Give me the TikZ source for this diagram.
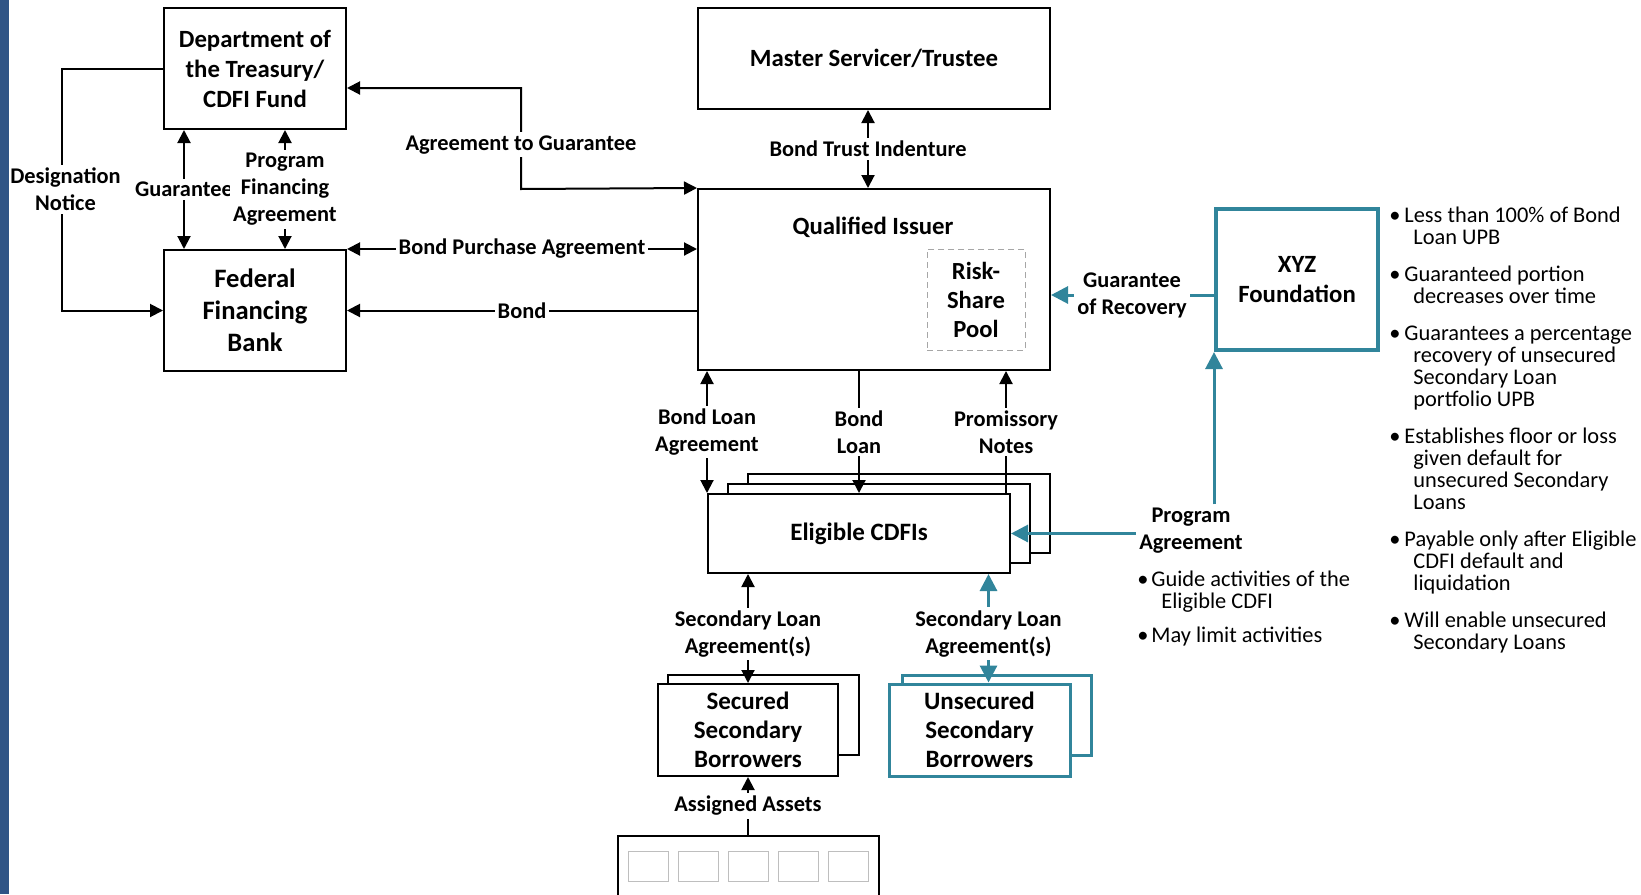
\documentclass[tikz,border=0pt]{standalone}
\usepackage{fontspec}
\setmainfont{Carlito}
\usetikzlibrary{arrows.meta}
\definecolor{tealline}{RGB}{49,133,155}
\definecolor{sidebar}{RGB}{47,84,134}
\definecolor{cellgray}{RGB}{190,190,190}
\tikzset{
  box/.style={draw, line width=1pt, fill=white, align=center, inner sep=0pt, font=\bfseries\fontsize{12.4}{15}\selectfont},
  lbl/.style={fill=white, inner sep=1.5pt, align=center, font=\bfseries\fontsize{11.2}{13.5}\selectfont},
  con/.style={line width=1pt, >={Triangle[length=6.5pt,width=6.5pt]}},
  tcon/.style={draw=tealline, line width=1.5pt, >={Triangle[length=8.5pt,width=8.5pt]}},
  note/.style={align=left, inner sep=0pt, anchor=north west, font=\fontsize{11.2}{11}\selectfont},
}
\begin{document}
\begin{tikzpicture}[x=0.5pt,y=-0.5pt]
\useasboundingbox (0,0) rectangle (1641,894);

\node[box, minimum width=91pt, minimum height=60.5pt] (treas) at (255,68.5) {Department of\\the Treasury/\\CDFI Fund};
\node[box, minimum width=91pt, minimum height=60.5pt, font=\bfseries\fontsize{13.3}{16}\selectfont] (ffb) at (255,310.5) {Federal\\Financing\\Bank};
\node[box, minimum width=176pt, minimum height=50.5pt] (master) at (874,58.5) {Master Servicer/Trustee};
\node[box, minimum width=176pt, minimum height=90.5pt] (qi) at (874,279.5) {};
\node[font=\bfseries\fontsize{12.4}{15}\selectfont] (qititle) at (873,227) {Qualified Issuer};
\node[draw=gray!70, densely dashed, line width=0.5pt, minimum width=49pt, minimum height=50.5pt, inner sep=0pt, align=center, font=\bfseries\fontsize{12.3}{14.5}\selectfont] (pool) at (976,299.5) {Risk-\\Share\\Pool};
\node[box, draw=tealline, line width=2pt, minimum width=81pt, minimum height=70.5pt, font=\bfseries\fontsize{12.4}{15}\selectfont] (xyz) at (1297,279.5) {XYZ\\Foundation};

\node[box, minimum width=151pt, minimum height=39.5pt] (cdfiC) at (899,513.5) {};
\node[box, minimum width=151pt, minimum height=39.5pt] (cdfiB) at (879,523.5) {};
\node[box, minimum width=151pt, minimum height=39.5pt, font=\bfseries\fontsize{12.5}{15}\selectfont] (cdfi) at (859,533.5) {Eligible CDFIs};

\node[box, minimum width=95.5pt, minimum height=40pt] (secB) at (763.5,715) {};
\node[box, minimum width=90pt, minimum height=46pt, font=\bfseries\fontsize{12.5}{14.5}\selectfont] (sec) at (748,730) {Secured\\Secondary\\Borrowers};
\node[box, draw=tealline, line width=1.5pt, minimum width=94.5pt, minimum height=40pt] (unsB) at (996.5,715) {};
\node[box, draw=tealline, line width=1.5pt, minimum width=90.5pt, minimum height=46pt, font=\bfseries\fontsize{12.5}{14.5}\selectfont] (uns) at (979.5,730) {Unsecured\\Secondary\\Borrowers};

\node[box, minimum width=130.5pt, minimum height=35pt, anchor=north] (assets) at (748.5,835) {};
\foreach \i in {0,...,4}
  \node[draw=cellgray, line width=0.5pt, minimum width=20pt, minimum height=15pt, inner sep=0pt] (cell\i) at (648+50*\i,866) {};

\draw[con,->] (treas.west) -- ++(-101.5,0) |- node[lbl,pos=.25,xshift=2pt]{Designation\\Notice} (ffb.west);
\draw[con,<->] ([xshift=10.5pt]treas.south west) -- node[lbl]{Guarantee} ([xshift=10.5pt]ffb.north west);
\draw[con,<->] ([xshift=61pt]treas.south west) -- node[lbl]{Program\\Financing\\Agreement} ([xshift=61pt]ffb.north west);
\coordinate (atg) at (521,189);
\draw[con,<->] ([yshift=-9.75pt]treas.east) -| node[lbl,pos=.78]{Agreement to Guarantee} (atg) -- (qi.north west);
\draw[con,<->] (ffb.north east) -- node[lbl]{Bond Purchase Agreement} (ffb.north east -| qi.west);
\draw[con,->] (qi.west |- ffb.east) -- node[lbl]{Bond} (ffb.east);
\draw[con,<->] ([xshift=-3pt]master.south) -- node[lbl]{Bond Trust Indenture} ([xshift=-3pt]qi.north);

\node[lbl] (gor) at (1132,295) {Guarantee\\of Recovery};
\draw[tcon] (gor.east) -- (gor.east -| xyz.west);
\draw[tcon,->] (gor.west) -- (gor.west -| qi.east);

\node[lbl] (pa) at (1191,530.5) {Program\\Agreement};
\draw[tcon,->] (pa.west |- cdfi.east) -- (cdfi.east);
\draw[tcon,->] (xyz.south west |- pa.north) -- (xyz.south west);

\draw[con,<->] (cdfi.north west |- qi.south) -- node[lbl]{Bond Loan\\Agreement} (cdfi.north west);
\draw[con,->] (cdfi.north |- qi.south) -- node[lbl]{Bond\\Loan} (cdfi.north);
\coordinate (pnb) at ([xshift=-2.5pt]cdfi.north east);
\draw[con,<-] (pnb |- qi.south) -- node[lbl]{Promissory\\Notes} (pnb);

\draw[con,<->] (sec.north |- cdfi.south) -- node[lbl,pos=.55]{Secondary Loan\\Agreement(s)} (sec.north);
\coordinate (usn) at ([xshift=4.5pt]uns.north);
\draw[tcon,<->] (usn |- cdfi.south) -- node[lbl,pos=.55]{Secondary Loan\\Agreement(s)} (usn);
\draw[con,->] (assets.north -| sec.south) -- node[lbl]{Assigned Assets} (sec.south);

\node[note] (panotes) at (1137,571) {\makebox[7pt][l]{\textbullet}Guide activities of the\\\hspace*{12pt}Eligible CDFI\\[6pt]\makebox[7pt][l]{\textbullet}May limit activities};
\node[note] (xyznotes) at (1389,207) {\makebox[7.5pt][l]{\textbullet}Less than 100\% of Bond\\\hspace*{12pt}Loan UPB\\[7.5pt]%
\makebox[7.5pt][l]{\textbullet}Guaranteed portion\\\hspace*{12pt}decreases over time\\[7.5pt]%
\makebox[7.5pt][l]{\textbullet}Guarantees a percentage\\\hspace*{12pt}recovery of unsecured\\\hspace*{12pt}Secondary Loan\\\hspace*{12pt}portfolio UPB\\[7.5pt]%
\makebox[7.5pt][l]{\textbullet}Establishes floor or loss\\\hspace*{12pt}given default for\\\hspace*{12pt}unsecured Secondary\\\hspace*{12pt}Loans\\[7.5pt]%
\makebox[7.5pt][l]{\textbullet}Payable only after Eligible\\\hspace*{12pt}CDFI default and\\\hspace*{12pt}liquidation\\[7.5pt]%
\makebox[7.5pt][l]{\textbullet}Will enable unsecured\\\hspace*{12pt}Secondary Loans};

\fill[sidebar] (0,0) rectangle (9,894);
\end{tikzpicture}
\end{document}
